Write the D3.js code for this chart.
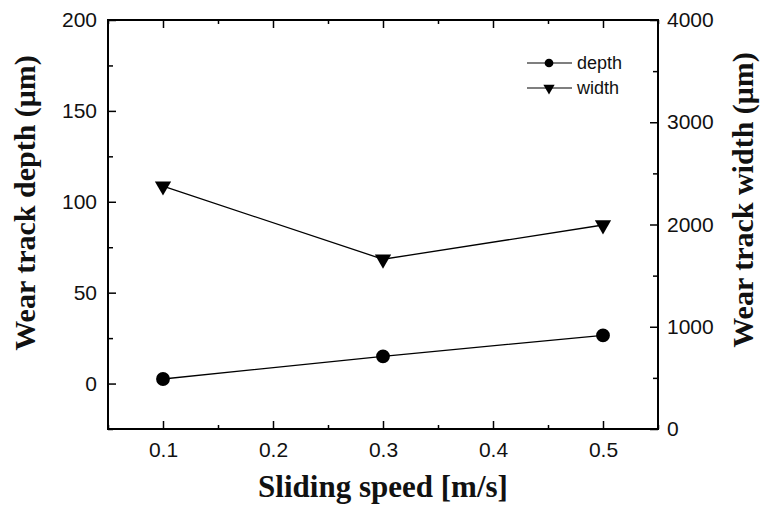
<!DOCTYPE html>
<html>
<head>
<meta charset="utf-8">
<script src="https://cdn.jsdelivr.net/npm/d3@7"></script>
<style>
  html, body { margin: 0; padding: 0; background: #fff; }
</style>
</head>
<body>
<div id="chart"></div>
<script>
// Wear track depth (left axis) and width (right axis) vs sliding speed.

const speeds = [0.1, 0.3, 0.5];
const depthValues = [2.5, 15, 26.5];      // µm, left axis
const widthValues = [2375, 1660, 1995];   // µm, right axis

const xTicks = [0.1, 0.2, 0.3, 0.4, 0.5];
const leftTicks = [0, 50, 100, 150, 200];
const rightTicks = [0, 1000, 2000, 3000, 4000];

const legendLabels = ["depth", "width"];

const totalWidth = 760, totalHeight = 514;
const plot = { left: 108, top: 20, right: 658, bottom: 429 };

const svg = d3.select("#chart").append("svg")
  .attr("width", totalWidth)
  .attr("height", totalHeight)
  .style("display", "block");

svg.append("rect")
  .attr("width", totalWidth)
  .attr("height", totalHeight)
  .attr("fill", "#fff");

const xScale = d3.scaleLinear().domain([0.05, 0.55]).range([plot.left, plot.right]);
const yLeft = d3.scaleLinear().domain([-25, 200]).range([plot.bottom, plot.top]);
const yRight = d3.scaleLinear().domain([0, 4000]).range([plot.bottom, plot.top]);

const sansFont = "'Liberation Sans', Arial, sans-serif";
const serifFont = "'Liberation Serif', 'Times New Roman', serif";

// minor tick helpers
const xMinor = d3.range(0.05, 0.551, 0.05).map(v => +v.toFixed(2)).filter(v => !xTicks.includes(v));
const leftMinor = d3.range(-25, 201, 25).filter(v => !leftTicks.includes(v));
const rightMinor = d3.range(500, 4000, 1000);

function styleAxis(g) {
  g.select(".domain").remove();
  g.selectAll(".tick line").attr("stroke", "#000").attr("stroke-width", 1.5);
  g.selectAll(".tick text")
    .attr("fill", "#111")
    .attr("font-family", sansFont)
    .attr("font-size", "21px");
}

// bottom axis, ticks pointing inward
svg.append("g")
  .attr("transform", `translate(0, ${plot.bottom})`)
  .call(d3.axisBottom(xScale).tickValues(xTicks).tickSize(-8).tickPadding(13).tickFormat(d3.format(".1f")))
  .call(styleAxis);
svg.append("g")
  .attr("transform", `translate(0, ${plot.bottom})`)
  .call(d3.axisBottom(xScale).tickValues(xMinor).tickSize(-4).tickFormat(""))
  .call(styleAxis);

// top axis (mirror ticks, no labels)
svg.append("g")
  .attr("transform", `translate(0, ${plot.top})`)
  .call(d3.axisTop(xScale).tickValues(xTicks).tickSize(-8).tickFormat(""))
  .call(styleAxis);
svg.append("g")
  .attr("transform", `translate(0, ${plot.top})`)
  .call(d3.axisTop(xScale).tickValues(xMinor).tickSize(-4).tickFormat(""))
  .call(styleAxis);

// left axis
svg.append("g")
  .attr("transform", `translate(${plot.left}, 0)`)
  .call(d3.axisLeft(yLeft).tickValues(leftTicks).tickSize(-8).tickPadding(11))
  .call(styleAxis);
svg.append("g")
  .attr("transform", `translate(${plot.left}, 0)`)
  .call(d3.axisLeft(yLeft).tickValues(leftMinor).tickSize(-5).tickFormat(""))
  .call(styleAxis);

// right axis
svg.append("g")
  .attr("transform", `translate(${plot.right}, 0)`)
  .call(d3.axisRight(yRight).tickValues(rightTicks).tickSize(-8).tickPadding(9).tickFormat(d3.format("d")))
  .call(styleAxis);
svg.append("g")
  .attr("transform", `translate(${plot.right}, 0)`)
  .call(d3.axisRight(yRight).tickValues(rightMinor).tickSize(-5).tickFormat(""))
  .call(styleAxis);

// frame
svg.append("rect")
  .attr("x", plot.left)
  .attr("y", plot.top)
  .attr("width", plot.right - plot.left)
  .attr("height", plot.bottom - plot.top)
  .attr("fill", "none")
  .attr("stroke", "#000")
  .attr("stroke-width", 2);

// series lines
const depthLine = d3.line().x((d, i) => xScale(speeds[i])).y(d => yLeft(d));
const widthLine = d3.line().x((d, i) => xScale(speeds[i])).y(d => yRight(d));

svg.append("path")
  .datum(depthValues)
  .attr("fill", "none")
  .attr("stroke", "#000")
  .attr("stroke-width", 1.3)
  .attr("d", depthLine);

svg.append("path")
  .datum(widthValues)
  .attr("fill", "none")
  .attr("stroke", "#000")
  .attr("stroke-width", 1.3)
  .attr("d", widthLine);

// markers
const circleSymbol = d3.symbol().type(d3.symbolCircle).size(150);
const triSymbol = d3.symbol().type(d3.symbolTriangle).size(115);

svg.selectAll(".depth-pt")
  .data(depthValues)
  .join("path")
  .attr("transform", (d, i) => `translate(${xScale(speeds[i])}, ${yLeft(d)})`)
  .attr("d", circleSymbol)
  .attr("fill", "#000");

svg.selectAll(".width-pt")
  .data(widthValues)
  .join("path")
  .attr("transform", (d, i) => `translate(${xScale(speeds[i])}, ${yRight(d)}) rotate(180)`)
  .attr("d", triSymbol)
  .attr("fill", "#000");

// legend
const legend = svg.append("g").attr("transform", "translate(527, 63)");
legendLabels.forEach((label, i) => {
  const row = legend.append("g").attr("transform", `translate(0, ${i * 25})`);
  row.append("line")
    .attr("x1", 0).attr("x2", 45)
    .attr("stroke", "#000").attr("stroke-width", 1.2);
  row.append("path")
    .attr("transform", i === 0 ? "translate(22, 0)" : "translate(22, 0) rotate(180)")
    .attr("d", i === 0 ? d3.symbol().type(d3.symbolCircle).size(60)() : d3.symbol().type(d3.symbolTriangle).size(55)())
    .attr("fill", "#000");
  row.append("text")
    .attr("x", 50)
    .attr("dy", "0.35em")
    .attr("font-family", sansFont)
    .attr("font-size", "18px")
    .attr("fill", "#111")
    .text(label);
});

// axis titles
svg.append("text")
  .attr("x", 383)
  .attr("y", 497)
  .attr("text-anchor", "middle")
  .attr("font-family", serifFont)
  .attr("font-weight", "bold")
  .attr("font-size", "31px")
  .attr("fill", "#111")
  .text("Sliding speed [m/s]");

svg.append("text")
  .attr("transform", "translate(35, 203) rotate(-90)")
  .attr("text-anchor", "middle")
  .attr("font-family", serifFont)
  .attr("font-weight", "bold")
  .attr("font-size", "30px")
  .attr("fill", "#111")
  .text("Wear track depth (μm)");

svg.append("text")
  .attr("transform", "translate(753, 200) rotate(-90)")
  .attr("text-anchor", "middle")
  .attr("font-family", serifFont)
  .attr("font-weight", "bold")
  .attr("font-size", "30px")
  .attr("fill", "#111")
  .text("Wear track width (μm)");
</script>
</body>
</html>
